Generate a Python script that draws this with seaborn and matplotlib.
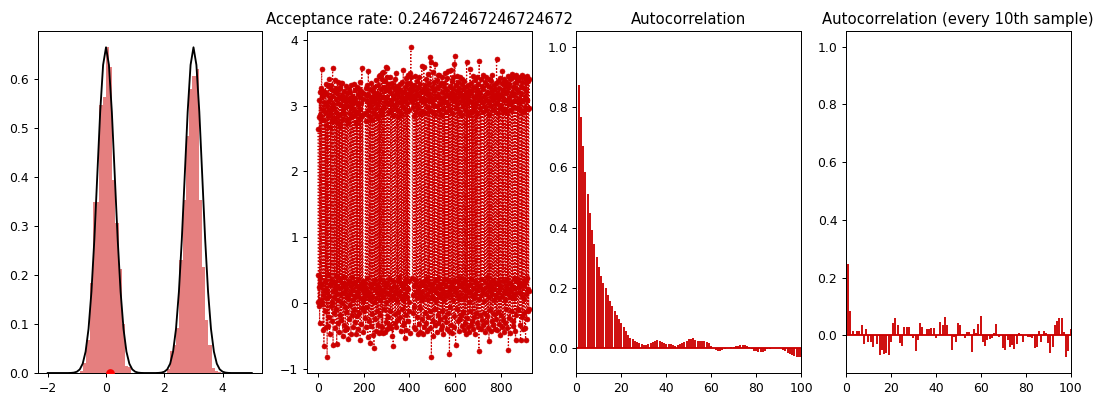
import numpy as np
import pandas as pd
import matplotlib
matplotlib.use("Agg")
import matplotlib.pyplot as plt
import seaborn as sns

# ---------------- data ----------------
# histogram of samples (density per bin), bins of equal width
hist_start = -0.89
hist_width = 0.11
hist_heights = [0.005, 0.02, 0.067, 0.183, 0.35, 0.35, 0.547, 0.564, 0.665, 0.625,
                0.394, 0.307, 0.213, 0.101, 0.014, 0.012, 0.0, 0.0, 0.0, 0.0,
                0.0, 0.0, 0.0, 0.0, 0.0, 0.0, 0.0, 0.008, 0.044, 0.057,
                0.091, 0.23, 0.353, 0.484, 0.58, 0.607, 0.62, 0.353, 0.216, 0.108,
                0.058, 0.01, 0.004, 0.003]

# target density curve, x from -2 to 5 step 0.1
curve_y = [0, 0, 0, 0, 0, 0, 0, 0,
           0.0002, 0.0008, 0.0026, 0.0074, 0.0190, 0.0437, 0.0900, 0.1660, 0.2730, 0.4030, 0.5330, 0.6290,
           0.6650,
           0.6290, 0.5330, 0.4030, 0.2730, 0.1660, 0.0900, 0.0437, 0.0190, 0.0074, 0.0026, 0.0008, 0.0002,
           0, 0, 0, 0, 0,
           0.0002, 0.0008, 0.0026, 0.0074, 0.0190, 0.0437, 0.0900, 0.1660, 0.2730, 0.4030, 0.5330, 0.6290,
           0.6650,
           0.6290, 0.5330, 0.4030, 0.2730, 0.1660, 0.0900, 0.0437, 0.0190, 0.0074, 0.0026, 0.0008, 0.0002,
           0, 0, 0, 0, 0, 0, 0, 0]
start_point = [0.15, 0.0]

trace = [
 2.64, 0.02, 0.43, -0.05, 0.24, 2.83, 3.09, -0.30, 0.38, 2.86, 3.21, 0.30, 3.27, 2.81, 0.05, 3.22, 3.56, 3.19, -0.02, 0.27,
 2.95, 3.15, -0.41, 0.12, 3.22, 2.78, -0.66, 0.19, 3.05, 2.90, 0.33, -0.12, 3.21, 3.33, 0.08, 2.71, -0.36, 0.21, 2.99, 3.18,
 -0.83, 0.16, 3.06, 2.84, -0.35, 3.30, 0.44, -0.21, 2.93, 3.41, 0.10, -0.47, 3.12, 2.68, 0.27, 3.25, -0.05, 0.35, 2.88, 3.32,
 0.02, -0.28, 3.15, 2.76, 3.58, 0.18, -0.64, 3.03, 0.31, 2.97, 3.22, -0.16, 0.09, 3.39, 2.82, -0.38, 0.24, 3.10, 3.27, -0.09,
 0.41, 2.91, -0.62, 3.19, 0.13, 2.75, 3.36, 0.05, -0.31, 3.04, 3.25, 0.22, 2.86, -0.45, 3.13, 0.37, 3.28, 2.69, -0.18, 0.14,
 3.34, 3.01, -0.26, 0.30, 2.79, 3.17, 0.00, 3.35, -0.51, 0.26, 2.94, 3.09, 0.17, -0.33, 3.23, 2.87, 0.39, -0.07, 3.12, 2.98,
 -0.41, 0.21, 3.06, 3.30, -0.14, 2.80, 0.11, 3.19, -0.38, 0.28, 3.00, 2.73, 0.06, -0.55, 3.26, 3.11, 0.33, -0.24, 2.89, 3.21,
 0.15, -0.03, 3.07, 2.83, -0.47, 0.25, 3.31, 3.02, 0.40, -0.19, 2.96, 3.15, 0.04, 3.08, -0.36, 0.20, 2.86, 3.33, -0.11, 0.32,
 3.24, 2.92, -0.29, 0.09, 3.12, 2.74, 0.27, -0.48, 3.05, 3.29, 0.16, 2.90, -0.20, 0.36, 3.18, 3.01, -0.40, 0.12, 2.81, 3.26,
 0.23, -0.15, 3.13, 3.36, -0.57, 0.08, 2.95, 3.22, 0.29, 3.04, -0.32, 0.19, 3.57, 2.85, -0.08, 0.34, 3.20, 3.10, -0.44, 0.03,
 0.18, 0.26, -0.12, 0.07, 0.31, -0.23, 0.14, 2.89, 3.27, -0.37, 0.21, 3.16, 2.77, 0.38, -0.06, 3.09, 3.31, 0.10, -0.52, 2.93,
 3.53, 3.18, 0.16, -0.27, 3.03, 2.84, 0.29, 3.26, -0.61, 0.06, 3.14, 2.99, -0.35, 0.24, 3.35, 2.80, 0.11, -0.17, 3.07, 3.22,
 -0.49, 0.30, 2.91, 3.17, 0.02, -0.68, 3.28, 3.05, 0.35, 0.19, 2.87, -0.24, 3.12, 3.39, 0.08, -0.42, 2.96, 3.20, 0.27, -0.13,
 3.02, 3.31, -0.33, 0.15, 2.82, 3.45, 0.22, -0.46, 3.16, 3.08, 0.04, 3.47, -0.19, 0.37, 2.93, 3.25, -0.44, 0.13, 3.50, 2.88,
 0.20, -0.36, 3.40, 3.13, -0.46, 0.09, 3.52, 2.97, 0.32, 3.29, -0.09, 0.25, 3.37, 3.06, -0.44, 0.17, 3.59, 3.24, 0.01, -0.29,
 3.58, 3.11, 0.28, -0.40, 3.44, 3.03, 0.14, 3.33, -0.21, 0.36, 2.90, 3.27, -0.34, 0.06, 3.21, 3.43, 0.23, -0.12, 3.08, 2.94,
 -0.38, 0.19, 3.35, 3.02, 0.10, -0.51, 3.17, 2.86, 0.33, -0.66, 3.28, 3.12, 0.07, 0.26, 2.99, -0.17, 3.24, 3.40, 0.15, -0.31,
 3.49, 2.95, 0.22, -0.36, 3.18, 3.06, 0.03, 3.30, -0.26, 0.34, 2.83, 3.19, -0.14, 0.12, 3.26, 2.92, 0.40, -0.22, 3.14, 3.33,
 0.18, -0.43, 3.05, 2.88, 0.29, 3.23, -0.10, 0.08, 3.36, 3.00, -0.33, 0.24, 3.11, 3.54, 0.05, -0.30, 2.97, 3.21, 0.31, -0.53,
 3.29, 3.08, 0.14, -0.19, 3.42, 2.90, 0.37, -0.41, 3.16, 3.34, 0.09, 3.04, -0.28, 0.21, 3.47, 3.13, -0.12, 0.33, 2.94, 3.26,
 0.02, -0.46, 3.19, 3.49, 3.35, 3.12, 3.90, 3.08, 3.44, 3.31, 3.27, 3.22, 3.06, 0.38, 0.12, -0.15, 3.15, 2.98, -0.37, 0.25,
 3.32, 2.85, -0.06, 0.29, 3.10, 3.45, -0.39, 0.16, 2.91, 3.24, 0.35, -0.21, 3.37, 3.03, 0.07, 3.18, -0.48, 0.20, 3.29, 2.96,
 0.13, -0.32, 3.43, 3.15, 0.26, -0.08, 2.87, 3.33, -0.44, 0.10, 3.22, 3.09, 0.32, -0.25, 3.60, 2.92, 0.17, 0.04, 3.26, 3.12,
 -0.47, 0.27, 3.05, 3.59, 0.09, -0.36, 3.19, 2.89, 0.34, 3.31, -0.15, 0.22, 3.08, 3.41, -0.30, 0.13, 2.98, 3.25, 0.38, -0.42,
 3.16, 3.48, 0.06, -0.21, 3.34, 2.95, 0.31, 3.20, -0.12, 0.19, 3.74, 3.07, -0.38, 0.25, 3.66, 3.13, -0.83, 0.11, 2.90, 3.28,
 0.29, -0.27, 3.51, 3.02, 0.08, -0.50, 3.23, 3.36, 0.20, 3.10, -0.34, 0.33, 3.64, 2.88, -0.09, 0.16, 3.27, 3.15, 0.03, -0.45,
 3.39, 3.00, 0.24, -0.18, 3.47, 3.17, 0.36, -0.31, 2.93, 3.30, 0.12, 3.46, -0.24, 0.27, 3.12, 3.04, -0.40, 0.09, 3.34, 2.86,
 0.21, -0.13, 3.21, 3.44, -0.35, 0.15, 3.09, 2.97, 0.30, -0.47, 3.35, 3.14, 0.05, 3.28, -0.22, 0.37, 3.06, 3.50, 0.14, -0.29,
 3.18, 2.91, 0.26, -0.39, 3.42, 3.24, 0.10, -0.16, 3.53, 3.03, 0.33, 3.15, -0.42, 0.18, 2.95, -0.78, 0.22, 3.30, 3.11, -0.07,
 0.32, 3.55, 3.20, -0.33, 0.12, 3.37, 2.89, 0.27, -0.46, 3.10, 3.44, 0.04, 3.25, -0.20, 0.35, 3.16, 3.64, -0.37, 0.19, 3.75,
 3.08, 0.23, -0.64, 3.31, 2.97, 0.15, -0.10, 3.45, 3.22, 0.34, 3.02, -0.28, 0.09, 3.36, 3.13, -0.43, 0.28, 2.92, 3.27, 0.06,
 -0.25, 3.19, 3.44, 0.38, -0.19, 3.07, 2.86, 0.13, -0.35, 3.33, 3.15, 0.24, 3.41, -0.14, 0.31, 2.99, 3.25, -0.41, 0.07, 3.12,
 3.38, 0.20, -0.30, 3.04, 3.28, 0.35, -0.47, 2.94, 3.21, 0.11, 3.66, -0.23, 0.26, 3.17, 3.03, -0.36, 0.18, 3.32, 2.88, 0.02,
 -0.44, 3.24, 3.09, 0.29, -0.12, 3.56, 3.18, 0.16, -0.33, 2.91, 3.35, 0.37, 3.06, -0.27, 0.10, 3.23, 3.45, -0.39, 0.22, 3.00,
 3.29, 0.08, -0.21, 3.14, 2.95, 0.33, -0.48, 3.39, 3.11, 0.14, 3.27, -0.16, 0.30, 3.02, 3.43, -0.31, 0.19, 2.87, 3.22, 0.25,
 -0.37, 3.16, 3.33, 0.06, -0.73, 3.68, 3.08, 0.27, -0.18, 3.20, 2.96, 0.36, 3.41, -0.40, 0.12, 3.12, 3.30, -0.26, 0.21, 3.05,
 2.90, 0.17, -0.34, 3.26, 3.47, 0.03, -0.15, 3.15, 3.00, 0.32, 3.36, -0.45, 0.23, 3.09, 3.44, -0.29, 0.14, 2.93, 3.21, 0.39,
 -0.20, 3.32, 3.07, 0.26, -0.38, 3.19, 3.40, 0.09, -0.58, 3.04, 2.88, 0.31, 3.28, -0.11, 0.18, 3.13, 3.37, -0.43, 0.24, 2.99,
 3.23, 0.13, -0.27, 3.46, 3.10, 0.35, -0.34, 3.17, 2.94, 0.21, 3.31, -0.17, 0.05, 3.25, 3.02, -0.39, 0.28, 3.14, 3.35, 0.10,
 -0.24, 3.71, 3.06, 0.30, -0.41, 3.20, 2.89, 0.16, 3.38, -0.14, 0.34, 3.11, 3.27, -0.32, 0.07, 2.97, 3.42, 0.22, -0.49, 3.18,
 3.01, 0.25, -0.19, 3.34, 3.15, 0.11, -0.36, 3.53, 2.92, 0.33, 3.24, -0.26, 0.17, 3.08, 3.41, -0.44, 0.20, 3.30, 2.95, 0.04,
 -0.30, 3.19, 3.36, 0.27, -0.10, 3.07, 3.23, 0.36, -0.38, 2.90, 3.45, 0.14, 3.28, -0.72, 0.21, 3.12, 3.33, -0.23, 0.09, 3.03,
 3.40, 0.31, -0.46, 3.17, 2.93, 0.18, -0.13, 3.48, 3.21, 0.26, 3.05, -0.35, 0.12, 3.29, 3.44, -0.28, 0.37, 2.98, 3.16, 0.08,
 -0.42, 3.35, 3.09, 0.22, -0.57, 3.26, 3.46, 0.15, -0.18, 3.41, 2.96, 0.34, 3.38, -0.09, 0.37, 3.22, 3.39, -0.11, 0.29, 2.97,
 3.12, 0.24, -0.33, 3.43, 3.05, 0.17, -0.56, 3.30, 2.92, 0.29, 3.19, -0.21, 0.11, 3.36, 3.47, -0.40, 0.26, 3.08, 2.90, 0.35,
 -0.15, 3.27, 3.44, 0.06, -0.38, 3.15, 2.98, 0.32, -0.57, 3.41, 3.22, 0.13, 3.34, -0.25, 0.38, 3.09, 3.45, -0.12, 0.21, 2.95,
 3.37, 0.18, -0.10, 3.40, 2.97,
]
acceptance_rate = "0.24672467246724672"

acorr_full = [1.000, 0.873, 0.766, 0.669, 0.583, 0.510, 0.448, 0.392, 0.345, 0.304,
              0.271, 0.240, 0.218, 0.199, 0.177, 0.157, 0.140, 0.125, 0.109, 0.096,
              0.083, 0.070, 0.057, 0.046, 0.036, 0.030, 0.025, 0.022, 0.019, 0.015,
              0.012, 0.012, 0.013, 0.017, 0.020, 0.024, 0.027, 0.025, 0.020, 0.017,
              0.015, 0.014, 0.013, 0.010, 0.009, 0.012, 0.015, 0.017, 0.020, 0.026,
              0.030, 0.032, 0.034, 0.028, 0.025, 0.024, 0.023, 0.023, 0.021, 0.017,
              0.008, 0.000, -0.006, -0.009, -0.008, -0.004, -0.002, 0.000, 0.002, 0.004,
              0.006, 0.007, 0.008, 0.010, 0.011, 0.010, 0.007, 0.003, -0.002, -0.007,
              -0.010, -0.012, -0.012, -0.011, -0.008, -0.003, -0.001, 0.001, 0.002, 0.002,
              0.002, 0.000, -0.006, -0.010, -0.014, -0.019, -0.023, -0.025, -0.027, -0.029,
              -0.030]

acorr_thin = [1.000, 0.249, 0.084, 0.015, 0.006, 0.015, 0.015, 0.036, -0.031, 0.024,
              -0.023, -0.023, -0.039, 0.000, -0.028, -0.066, -0.049, -0.065, -0.060, -0.066,
              -0.023, 0.044, 0.061, 0.038, -0.025, -0.035, 0.030, 0.030, 0.030, -0.003,
              -0.007, -0.053, -0.016, 0.042, 0.030, 0.000, 0.022, 0.022, 0.027, 0.027,
              -0.007, 0.003, 0.046, 0.038, 0.064, 0.036, 0.002, -0.049, -0.006, -0.023,
              0.044, 0.035, 0.006, -0.010, 0.013, 0.013, -0.057, 0.024, 0.007, 0.039,
              0.069, -0.023, -0.035, -0.014, -0.012, -0.008, 0.007, 0.039, -0.006, 0.000,
              -0.043, -0.051, -0.016, -0.039, -0.034, -0.046, -0.028, 0.010, 0.006, -0.021,
              0.000, -0.005, -0.006, -0.010, -0.042, -0.039, 0.014, -0.021, 0.016, 0.010,
              -0.027, -0.062, -0.039, 0.036, 0.051, 0.061, 0.059, 0.012, -0.076, -0.053,
              0.022]

# ---------------- plotting ----------------
RED = "#cc0000"
DPI = 89

fig, axes = plt.subplots(1, 4, figsize=(1097 / DPI, 394 / DPI), dpi=DPI)
fig.subplots_adjust(left=37.5 / 1097, right=1070.5 / 1097,
                    bottom=1 - 373 / 394, top=1 - 31 / 394, wspace=0.2004)

# panel 1: histogram + target density
ax = axes[0]
edges = hist_start + hist_width * np.arange(len(hist_heights) + 1)
hist_df = pd.DataFrame({"x": (edges[:-1] + edges[1:]) / 2,
                        "w": hist_heights})
sns.histplot(data=hist_df, x="x", weights="w", bins=list(edges), color=RED,
             alpha=0.5, linewidth=0, ax=ax)
curve_df = pd.DataFrame({"x": np.linspace(-2, 5, len(curve_y)), "y": curve_y})
sns.lineplot(data=curve_df, x="x", y="y", color="black", linewidth=1.5, ax=ax)
sns.scatterplot(x=[start_point[0]], y=[start_point[1]], color="red", s=50,
                edgecolor="red", linewidth=0, ax=ax, zorder=5)
ax.set_ylabel("")
ax.set_xlabel("")

# panel 2: trace
ax = axes[1]
trace_df = pd.DataFrame({"i": np.arange(len(trace)), "v": trace})
sns.lineplot(data=trace_df, x="i", y="v", color=RED, linestyle=":",
             linewidth=1.0, marker="o", markersize=4, markeredgecolor=RED,
             markeredgewidth=0.5, ax=ax)
ax.set_xlim(-48, 934)
ax.set_title("Acceptance rate: " + acceptance_rate)
ax.set_ylabel("")
ax.set_xlabel("")

# panel 3: autocorrelation
ax = axes[2]
lags = np.arange(len(acorr_full))
ax.vlines(lags, 0, acorr_full, colors=RED, linewidth=1.5)
ax.axhline(0, color=RED, linewidth=1.5)
ax.set_xlim(0, 100)
ax.set_title("Autocorrelation")

# panel 4: autocorrelation, thinned
ax = axes[3]
lags = np.arange(len(acorr_thin))
ax.vlines(lags, 0, acorr_thin, colors=RED, linewidth=1.5)
ax.axhline(0, color=RED, linewidth=1.5)
ax.set_xlim(0, 100)
ax.set_title("Autocorrelation (every 10th sample)")

fig.savefig("out.png", dpi=DPI)
